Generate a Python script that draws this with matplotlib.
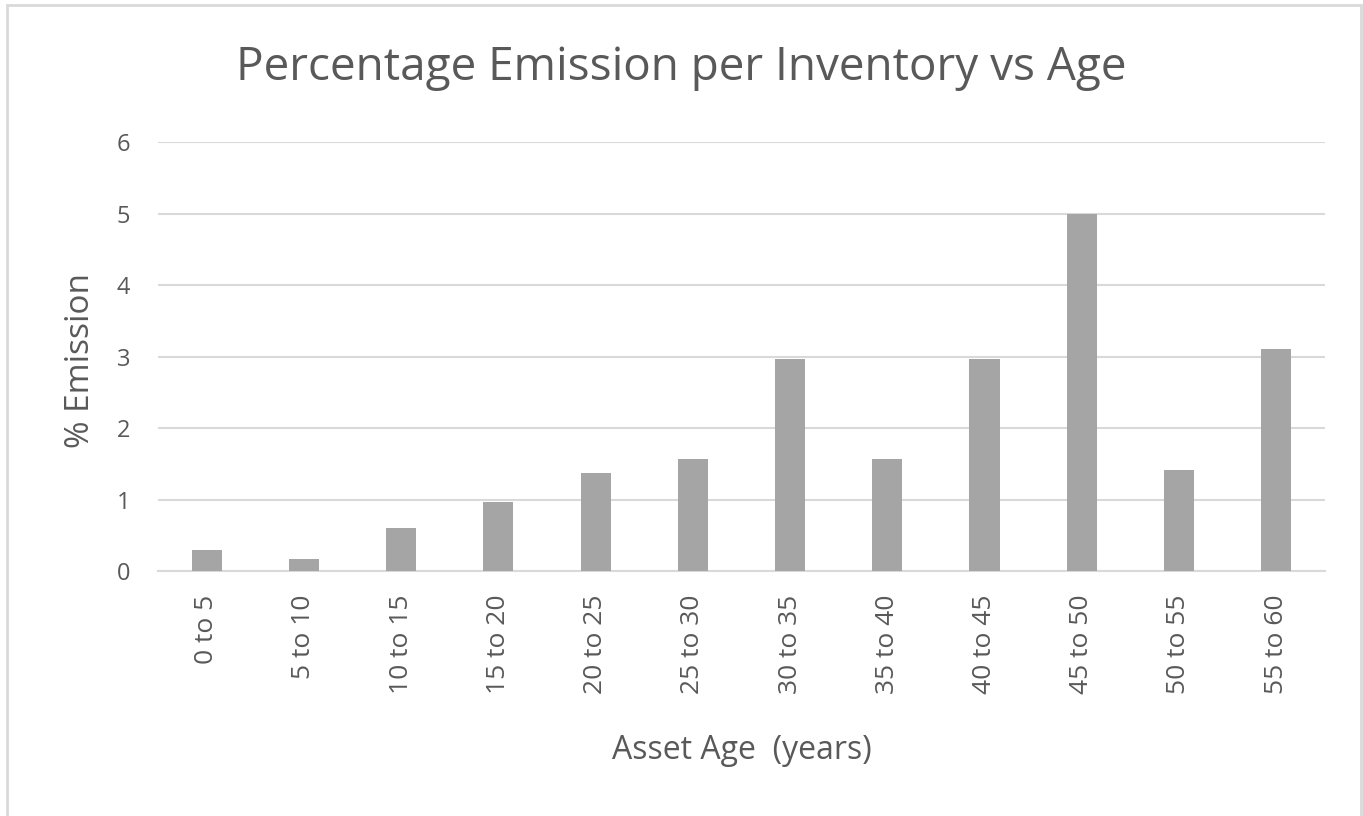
import matplotlib
matplotlib.use("Agg")
import matplotlib.pyplot as plt
from matplotlib.patches import Rectangle

categories = ["0 to 5", "5 to 10", "10 to 15", "15 to 20", "20 to 25", "25 to 30",
              "30 to 35", "35 to 40", "40 to 45", "45 to 50", "50 to 55", "55 to 60"]
emission = [0.30, 0.17, 0.61, 0.97, 1.37, 1.57, 2.97, 1.57, 2.97, 5.0, 1.41, 3.10]
yticks = [0, 1, 2, 3, 4, 5, 6]

title = "Percentage Emission per Inventory vs Age"
xlabel = "Asset Age  (years)"
ylabel = "% Emission"

txt = "#595959"
plt.rcParams['font.family'] = ['Open Sans', 'DejaVu Sans']

fig = plt.figure(figsize=(13.63, 8.16), dpi=100)
fig.patches.append(Rectangle((7 / 1363, -0.01), 1354 / 1363, 1.01 - 5 / 816,
                             transform=fig.transFigure,
                             fill=False, edgecolor="#d9d9d9", linewidth=2))
ax = fig.add_axes([0.116, 0.300, 0.856, 0.526])

x = list(range(len(categories)))
ax.bar(x, emission, width=0.31, color="#a5a5a5", zorder=3)
ax.set_xlim(-0.5, len(categories) - 0.5)
ax.set_ylim(0, 6)
ax.set_yticks(yticks)
ax.set_yticklabels([str(v) for v in yticks])
ax.set_xticks(x)
ax.set_xticklabels(categories, rotation=90, va="top", ha="center")
ax.grid(axis="y", color="#d9d9d9", linewidth=1.5, zorder=0)
for s in ["top", "right", "left"]:
    ax.spines[s].set_visible(False)
ax.spines["bottom"].set_color("#d9d9d9")
ax.spines["bottom"].set_linewidth(1.5)
ax.tick_params(axis="both", length=0, colors=txt)
ax.tick_params(axis="y", pad=20, labelsize=17)
ax.tick_params(axis="x", pad=17, labelsize=19)

ax.set_xlabel(xlabel, fontsize=23, color=txt)
ax.xaxis.set_label_coords(0.5, (571 - 750) / 429, transform=ax.transAxes)
ax.set_ylabel(ylabel, fontsize=24, color=txt)
ax.yaxis.set_label_coords((80 - 158) / 1167, 0.49, transform=ax.transAxes)
ax.xaxis.label.set_va("center")
ax.yaxis.label.set_va("center")
fig.text(0.5, 1 - 68 / 816, title, ha="center", va="center", fontsize=33, color=txt)

fig.savefig("out.png", dpi=100)
